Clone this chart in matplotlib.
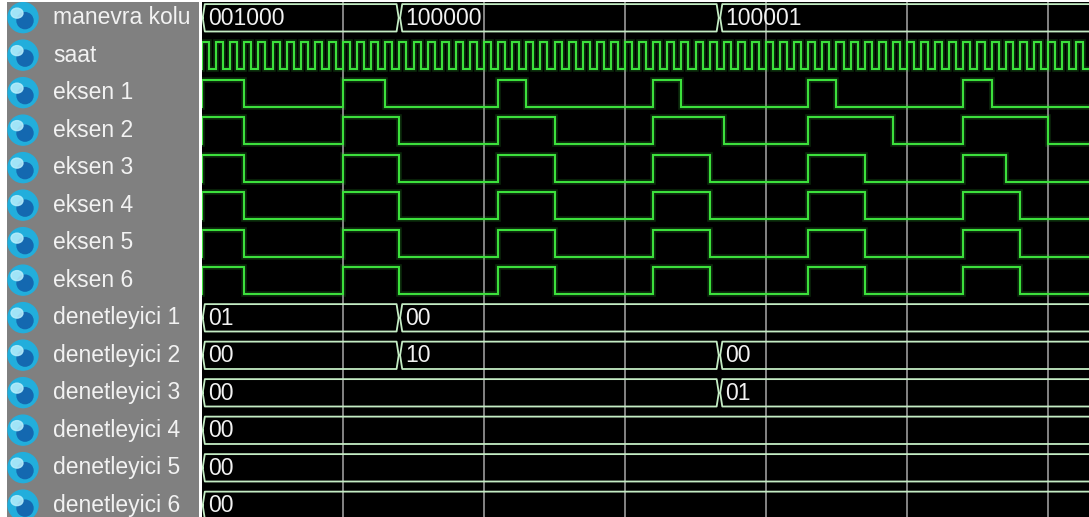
import numpy as np
import matplotlib.pyplot as plt
from matplotlib.patches import Ellipse

plt.rcParams['font.family'] = ['Liberation Sans', 'DejaVu Sans']

# signal names, top to bottom
names = ['manevra kolu', 'saat',
         'eksen 1', 'eksen 2', 'eksen 3', 'eksen 4', 'eksen 5', 'eksen 6',
         'denetleyici 1', 'denetleyici 2', 'denetleyici 3',
         'denetleyici 4', 'denetleyici 5', 'denetleyici 6']

# bus values: (start time in clock cycles, value)
manevra_kolu = [(0, '001000'), (14, '100000'), (36.7, '100001')]
denetleyici_1 = [(0, '01'), (14, '00')]
denetleyici_2 = [(0, '00'), (14, '10'), (36.7, '00')]
denetleyici_3 = [(0, '00'), (36.7, '01')]
denetleyici_4 = [(0, '00')]
denetleyici_5 = [(0, '00')]
denetleyici_6 = [(0, '00')]

# single-bit outputs: (rise, fall) in clock cycles
eksen_1 = [(0, 3), (10, 13), (21, 23), (32, 34), (43, 45), (54, 56)]
eksen_2 = [(0, 3), (10, 14), (21, 25), (32, 37), (43, 49), (54, 60)]
eksen_3 = [(0, 3), (10, 14), (21, 25), (32, 36), (43, 47), (54, 57)]
eksen_4 = [(0, 3), (10, 14), (21, 25), (32, 36), (43, 47), (54, 58)]
eksen_5 = [(0, 3), (10, 14), (21, 25), (32, 36), (43, 47), (54, 58)]
eksen_6 = [(0, 3), (10, 14), (21, 25), (32, 36), (43, 47), (54, 58)]

clock_cycles = 64
grid_times = [10, 20, 30, 40, 50, 60]

W, H = 1089, 517
ROW = 37.5          # pixels per signal row
CYCLE = 14.1        # pixels per clock cycle
X0 = 202            # where the waveform pane starts
T_END = (W - X0) / CYCLE

GREEN = '#3ce03c'
BUS = '#c4ecc4'
TXT = '#f2f2f2'
HI, LO = 0.12, 0.84

fig = plt.figure(figsize=(W / 100, H / 100), dpi=100, facecolor='white')
panel = fig.add_axes([7 / W, 0, 192 / W, 515 / H])
wave = fig.add_axes([X0 / W, 0, (W - X0) / W, 515 / H])

for ax in (panel, wave):
    ax.set_ylim(H / ROW, 2 / ROW)
    ax.set_xticks([])
    ax.set_yticks([])
    for s in ax.spines.values():
        s.set_visible(False)

panel.set_facecolor('#808080')
panel.set_xlim(7, 199)
wave.set_facecolor('black')
wave.set_xlim(0, T_END)

# name column with the little sphere icons
for i, name in enumerate(names):
    cy = i + 0.47
    panel.add_patch(Ellipse((23, cy), 30, 30 / ROW, color='#22aedc', zorder=2))
    panel.add_patch(Ellipse((25, cy + 0.08), 16, 16 / ROW, color='#1468b0', zorder=3))
    panel.add_patch(Ellipse((17, cy - 0.12), 12, 10 / ROW, color='#b8eefc', alpha=0.85, zorder=4))
    panel.text(53, cy, name, color=TXT, fontsize=16.5, va='center', ha='left')

for t in grid_times:
    wave.axvline(t, color='#a8a8a8', lw=1.1, zorder=1)


def green_line(xs, ys):
    wave.plot(xs, ys, color=GREEN, lw=4, alpha=0.18, zorder=2, solid_joinstyle='miter')
    wave.plot(xs, ys, color=GREEN, lw=1.5, zorder=3, solid_joinstyle='miter')


def digital(row, pulses):
    xs, ys = [0], [row + LO]
    for r, f in pulses:
        xs += [r, r, f, f]
        ys += [row + LO, row + HI, row + HI, row + LO]
    xs.append(T_END + 1)
    ys.append(row + LO)
    green_line(xs, ys)


def bus(row, segments):
    top, bot = row + 0.11, row + 0.84
    mid = (top + bot) / 2
    d = 0.2
    for k, (t0, value) in enumerate(segments):
        t1 = segments[k + 1][0] if k + 1 < len(segments) else T_END + 2
        xs = [t0 + 0.05, t0 + d, t1 - d, t1 - 0.05, t1 - d, t0 + d, t0 + 0.05]
        ys = [mid, top, top, mid, bot, bot, mid]
        wave.plot(xs, ys, color=BUS, lw=1.3, zorder=3)
        wave.text(t0 + 0.4, row + 0.49, value, color=TXT, fontsize=16.5,
                  va='center', ha='left', zorder=4)


# clock: high for the first half of every cycle
cx, cy = [], []
for k in range(clock_cycles):
    cx += [k, k, k + 0.5, k + 0.5]
    cy += [1 + LO, 1 + HI, 1 + HI, 1 + LO]
green_line(cx, cy)

bus(0, manevra_kolu)
for i, p in enumerate([eksen_1, eksen_2, eksen_3, eksen_4, eksen_5, eksen_6]):
    digital(2 + i, p)
for i, s in enumerate([denetleyici_1, denetleyici_2, denetleyici_3,
                       denetleyici_4, denetleyici_5, denetleyici_6]):
    bus(8 + i, s)

plt.savefig('out.png', dpi=100, facecolor=fig.get_facecolor())
